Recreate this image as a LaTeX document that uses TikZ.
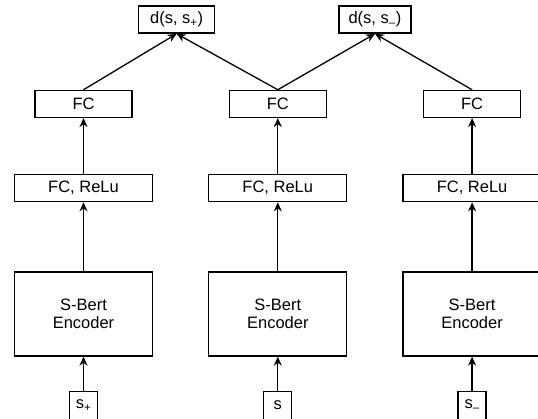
\documentclass[tikz,border=0pt]{standalone}
\usepackage{fontspec}
\setmainfont{Liberation Sans}
\usepackage{tikz}
\usetikzlibrary{positioning, calc, arrows.meta}

\begin{document}
\begin{tikzpicture}[
    x = 1pt, y = 1pt, align = center,
    font = \fontsize{16.5}{18}\selectfont,
    > = {Stealth[length = 9pt, width = 8pt]},
    encoder/.style = {
      rectangle, draw, line width = 1.3pt, inner sep = 0pt,
      minimum width = 138pt, minimum height = 84pt
    },
    layer/.style = {
      rectangle, draw, line width = 1.3pt, inner sep = 0pt,
      minimum width = 138pt, minimum height = 27pt
    },
    head/.style = {
      rectangle, draw, line width = 1.3pt, inner sep = 0pt,
      minimum width = 97pt, minimum height = 27pt
    },
    dist/.style = {
      rectangle, draw, line width = 1.3pt, inner sep = 0pt,
      minimum height = 27pt
    },
    input/.style = {
      rectangle, draw, line width = 1.3pt, inner sep = 0pt,
      minimum size = 28pt
    },
    path/.style = {
      arrows = ->, line width = 1.3pt
    },
    ]

    \useasboundingbox (0,0) rectangle (538,-418);

    % draw encoders
    \node  [encoder]  (enc1)  at (83.5,-314)  {S-Bert\\Encoder};
    \foreach \i [remember = \i as \lasti (initially 1)] in {2, 3}
    \node  [encoder]  (enc\i)  [right = 55pt of enc\lasti]  {S-Bert\\Encoder};

    % draw layers
    \foreach \i in {1, ..., 3}
    \node  [layer]  (fcr\i)  [above = 69pt of enc\i]  {FC, ReLu};

    \foreach \i in {1, ..., 3}
    \node  [head]  (fc\i)  [above = 56pt of fcr\i]  {FC};

    % draw inputs
    \foreach \i/\lab in {1/s\textsubscript{+}, 2/s, 3/s\textsubscript{--}}
    \node  [input]  (s\i)  [below = 34pt of enc\i]  {\lab};

    % draw distances
    \coordinate (m1) at ($(fc1.north)!0.5!(fc2.north)$);
    \coordinate (m2) at ($(fc2.north)!0.5!(fc3.north)$);
    \node  [dist, minimum width = 76pt]  (d1)  [above = 56pt of m1, xshift = -4pt]  {d(s, s\textsubscript{+})};
    \node  [dist, minimum width = 72pt]  (d2)  [above = 56pt of m2]  {d(s, s\textsubscript{--})};

    % draw paths
    \foreach \i in {1, ..., 3} {
    \draw  [path]  (s\i)  to  (enc\i);
    \draw  [path]  (enc\i)  to  (fcr\i);
    \draw  [path]  (fcr\i)  to  (fc\i);
    }

    \draw  [path]  (fc1.north)  to  (d1.south);
    \draw  [path]  (fc2.north)  to  (d1.south);
    \draw  [path]  (fc2.north)  to  (d2.south);
    \draw  [path]  (fc3.north)  to  (d2.south);

\end{tikzpicture}
\end{document}
